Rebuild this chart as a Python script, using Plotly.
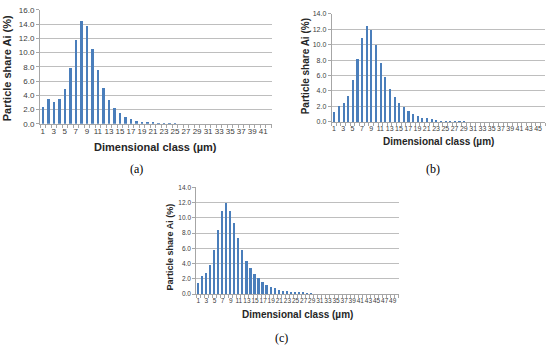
import plotly.graph_objects as go

# ---- data ----
classes_a = list(range(1, 43))
share_a = [2.4, 3.45, 3.1, 3.55, 4.9, 7.9, 11.8, 14.4, 13.7, 10.5, 7.6, 5.1, 3.4, 2.3,
           1.6, 1.05, 0.72, 0.48, 0.33, 0.22, 0.17, 0.12, 0.08, 0.06, 0.04, 0.0, 0.0,
           0.0, 0.0, 0.0, 0.0, 0.0, 0.0, 0.0, 0.0, 0.0, 0.0, 0.0, 0.0, 0.0, 0.0, 0.0]

classes_b = list(range(1, 47))
share_b = [1.3, 2.1, 2.5, 3.45, 5.4, 8.2, 10.9, 12.4, 11.9, 10.0, 7.7, 5.8, 4.3, 3.25,
           2.5, 1.9, 1.4, 1.05, 0.85, 0.6, 0.48, 0.38, 0.32, 0.2, 0.15, 0.12, 0.08, 0.06,
           0.05, 0.0, 0.0, 0.0, 0.0, 0.0, 0.0, 0.0, 0.0, 0.0, 0.0, 0.0, 0.0, 0.0,
           0.0, 0.0, 0.0, 0.0]

classes_c = list(range(1, 51))
share_c = [1.45, 2.28, 2.67, 3.7, 5.75, 8.4, 10.85, 11.9, 10.9, 9.3, 7.25, 5.7, 4.3, 3.3,
           2.6, 2.0, 1.58, 1.1, 0.82, 0.68, 0.5, 0.38, 0.3, 0.22, 0.17, 0.12, 0.08, 0.06,
           0.04, 0.0, 0.0, 0.0, 0.0, 0.0, 0.0, 0.0, 0.0, 0.0, 0.0, 0.0, 0.0, 0.0, 0.0,
           0.0, 0.0, 0.0, 0.0, 0.0, 0.0, 0.0]

y_max = {"a": 16, "b": 14, "c": 14}
panel_labels = ["(a)", "(b)", "(c)"]
y_title = "Particle share Ai (%)"
x_title = "Dimensional class (µm)"

W, H = 550, 350
BAR = "#4A7EBB"
GRID = "#BEBEBE"
AX = "#A6A6A6"
TXT = "#404040"
FONT = "Liberation Sans Narrow, Arial Narrow, Liberation Sans, Arial, sans-serif"
SERIF = "Liberation Serif, Times New Roman, serif"

fig = go.Figure()

panels = [
    # key, x, y, px-left, px-right, px-top(ymax), px-bottom(0), tick font
    ("a", classes_a, share_a, 40.0, 271.5, 6.0, 123.0, 8),
    ("b", classes_b, share_b, 331.7, 545.0, 10.0, 121.0, 7),
    ("c", classes_c, share_c, 196.3, 398.8, 188.3, 297.7, 6.5),
]

for i, (key, xs, ys, l, r, t, b, tfs) in enumerate(panels):
    sfx = "" if i == 0 else str(i + 1)
    fig.add_trace(go.Bar(x=xs, y=ys, marker_color=BAR, width=0.45,
                         marker_line_width=0,
                         xaxis="x" + sfx, yaxis="y" + sfx, showlegend=False))
    n = len(xs)
    fig.update_layout(**{
        "xaxis" + sfx: dict(
            domain=[l / W, r / W], anchor="y" + sfx, range=[0.5, n + 0.5],
            tickmode="array", tickvals=list(range(1, n + 1, 2)), tickangle=0,
            ticks="", showgrid=False, zeroline=False,
            showline=True, linecolor=AX, linewidth=1,
            tickfont=dict(family=FONT, size=tfs, color=TXT),
            minor=dict(tick0=0.5, dtick=1, ticks="outside", ticklen=3,
                       tickcolor=AX, showgrid=False),
        ),
        "yaxis" + sfx: dict(
            domain=[1 - b / H, 1 - t / H], anchor="x" + sfx,
            range=[0, y_max[key]], dtick=2, tickformat=".1f",
            ticks="outside", ticklen=3, tickcolor=AX,
            showgrid=True, gridcolor=GRID, gridwidth=1, zeroline=False,
            showline=True, linecolor=AX, linewidth=1,
            tickfont=dict(family=FONT, size=tfs, color=TXT),
        ),
    })

ann = []
# y titles (x center px, y center px, size)
for (xc, yc, fs) in [(7, 66, 11), (305, 64, 10), (170, 250, 9)]:
    ann.append(dict(x=xc / W, y=1 - yc / H, xref="paper", yref="paper",
                    text="<b>" + y_title + "</b>", textangle=-90, showarrow=False,
                    font=dict(family=FONT, size=fs, color="#262626"),
                    xanchor="center", yanchor="middle"))
# x titles
for (xc, yc, fs) in [(155.5, 147, 11), (438, 141, 10), (297.5, 319, 10)]:
    ann.append(dict(x=xc / W, y=1 - yc / H, xref="paper", yref="paper",
                    text="<b>" + x_title + "</b>", showarrow=False,
                    font=dict(family=FONT, size=fs, color="#262626"),
                    xanchor="center", yanchor="middle"))
# panel labels
for lab, (xc, yc) in zip(panel_labels, [(136, 169), (433, 169), (281, 343)]):
    ann.append(dict(x=xc / W, y=1 - yc / H, xref="paper", yref="paper",
                    text=lab, showarrow=False,
                    font=dict(family=SERIF, size=12, color="#000000"),
                    xanchor="center", yanchor="middle"))

fig.update_layout(
    width=W, height=H, margin=dict(l=0, r=0, t=0, b=0),
    paper_bgcolor="white", plot_bgcolor="white",
    bargap=0, annotations=ann,
)

fig.write_html("out.html", config={"displayModeBar": False},
               post_script="document.body.style.margin='0';document.body.style.overflow='hidden';")
